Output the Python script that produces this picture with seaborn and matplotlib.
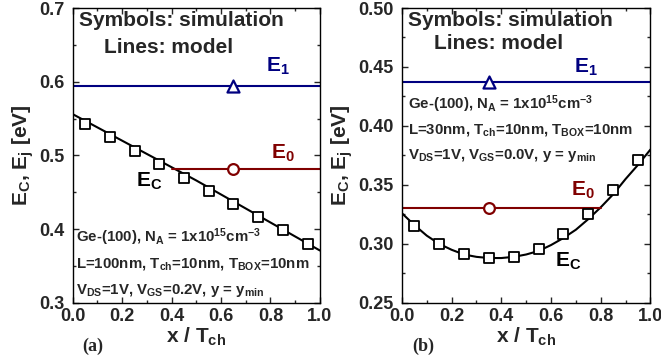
import numpy as np
import pandas as pd
import matplotlib
matplotlib.use("Agg")
import matplotlib.pyplot as plt
from matplotlib.ticker import MultipleLocator, FormatStrFormatter
import seaborn as sns

# ---------------- data ----------------
# panel (a)
a_sim_x = [0.05, 0.15, 0.25, 0.35, 0.45, 0.55, 0.65, 0.75, 0.85, 0.95]
a_sim_ec = [0.542, 0.525, 0.506, 0.489, 0.470, 0.452, 0.434, 0.417, 0.399, 0.380]
a_mod_x = [0.0, 0.1, 0.2, 0.3, 0.4, 0.5, 0.6, 0.7, 0.8, 0.9, 1.0]
a_mod_ec = [0.556, 0.538, 0.520, 0.502, 0.484, 0.466, 0.447, 0.428, 0.409, 0.390, 0.371]
a_e1 = 0.594
a_e0 = 0.481
a_e1_x = [0.0, 1.0]
a_e0_x = [0.4, 1.0]
a_level_sim_x = 0.65

# panel (b)
b_sim_x = [0.05, 0.15, 0.25, 0.35, 0.45, 0.55, 0.65, 0.75, 0.85, 0.95]
b_sim_ec = [0.315, 0.300, 0.291, 0.288, 0.289, 0.296, 0.308, 0.325, 0.346, 0.371]
b_mod_x = [0.0, 0.05, 0.1, 0.15, 0.2, 0.25, 0.3, 0.35, 0.4, 0.45, 0.5,
           0.55, 0.6, 0.65, 0.7, 0.75, 0.8, 0.85, 0.9, 0.95, 1.0]
b_mod_ec = [0.326, 0.316, 0.307, 0.300, 0.295, 0.291, 0.289, 0.288, 0.288, 0.289, 0.291,
            0.294, 0.299, 0.305, 0.312, 0.321, 0.331, 0.342, 0.355, 0.367, 0.380]
b_e1 = 0.437
b_e0 = 0.330
b_e1_x = [0.0, 1.0]
b_e0_x = [0.0, 0.8]
b_level_sim_x = 0.35

# ---------------- style ----------------
sns.set_style("ticks")
plt.rcParams["font.family"] = ["Liberation Sans", "DejaVu Sans"]
plt.rcParams["font.weight"] = "bold"
plt.rcParams["mathtext.fontset"] = "custom"
plt.rcParams["mathtext.rm"] = "Liberation Sans:bold"
plt.rcParams["mathtext.it"] = "Liberation Sans:bold"
plt.rcParams["mathtext.bf"] = "Liberation Sans:bold"
plt.rcParams["mathtext.default"] = "rm"

BLUE = "#000080"
RED = "#800000"
ANN = 10.8
HEAD = 15

fig = plt.figure(figsize=(6.61, 3.64), dpi=100)
axA = fig.add_axes([0.110, 0.168, 0.374, 0.810])
axB = fig.add_axes([0.608, 0.168, 0.376, 0.810])


def draw_panel(ax, sim_x, sim_ec, mod_x, mod_ec, e1, e0, e1_x, e0_x, lvl_x, lines_y):
    sns.lineplot(x=mod_x, y=mod_ec, ax=ax, color="black", lw=1.5)
    sns.lineplot(x=e1_x, y=[e1, e1], ax=ax, color=BLUE, lw=1.5)
    sns.lineplot(x=e0_x, y=[e0, e0], ax=ax, color=RED, lw=1.5)
    sns.scatterplot(x=sim_x, y=sim_ec, ax=ax, marker="s", s=50,
                    facecolor="white", edgecolor="black", linewidth=1.3, zorder=5)
    sns.scatterplot(x=[lvl_x], y=[e1], ax=ax, marker="^", s=75,
                    facecolor="white", edgecolor=BLUE, linewidth=1.6, zorder=5)
    sns.scatterplot(x=[lvl_x], y=[e0], ax=ax, marker="o", s=60,
                    facecolor="white", edgecolor=RED, linewidth=1.6, zorder=5)
    ax.set_xlim(0.0, 1.0)
    ax.xaxis.set_major_locator(MultipleLocator(0.2))
    ax.xaxis.set_minor_locator(MultipleLocator(0.1))
    ax.xaxis.set_major_formatter(FormatStrFormatter("%.1f"))
    ax.tick_params(which="both", direction="in", top=True, right=True,
                   labelsize=13)
    ax.tick_params(axis="y", which="major", pad=6)
    ax.tick_params(axis="x", which="major", pad=4)
    ax.tick_params(which="major", length=4, width=1)
    ax.tick_params(which="minor", length=2.5, width=1)
    for sp in ax.spines.values():
        sp.set_linewidth(1.0)
        sp.set_color("black")
    ax.set_xlabel(r"x / T$_{ch}$", fontsize=15, fontweight="bold", labelpad=0)
    ax.set_ylabel(r"E$_C$, E$_j$ [eV]", fontsize=15, fontweight="bold", labelpad=2)
    ax.text(0.025, 0.956, "Symbols: simulation", transform=ax.transAxes,
            fontsize=HEAD, fontweight="bold", ha="left", va="center")
    ax.text(0.387, lines_y, "Lines: model", transform=ax.transAxes,
            fontsize=HEAD, fontweight="bold", ha="center", va="center")


draw_panel(axA, a_sim_x, a_sim_ec, a_mod_x, a_mod_ec, a_e1, a_e0, a_e1_x, a_e0_x,
           a_level_sim_x, 0.865)
axA.set_ylim(0.3, 0.7)
axA.yaxis.set_major_locator(MultipleLocator(0.1))
axA.yaxis.set_minor_locator(MultipleLocator(0.05))
axA.yaxis.set_major_formatter(FormatStrFormatter("%.1f"))
axA.text(0.83, 0.606, r"E$_1$", color=BLUE, fontsize=15, ha="center", va="bottom")
axA.text(0.85, 0.489, r"E$_0$", color=RED, fontsize=15, ha="center", va="bottom")
axA.text(0.31, 0.465, r"E$_C$", color="black", fontsize=15, ha="center", va="center")
axA.text(0.015, 0.3895, r"Ge-(100), N$_A$ = 1x10$^{15}$cm$^{-3}$", fontsize=ANN, ha="left", va="center")
axA.text(0.015, 0.3527, r"L=100nm, T$_{ch}$=10nm, T$_{BOX}$=10nm", fontsize=ANN, ha="left", va="center")
axA.text(0.015, 0.3173, r"V$_{DS}$=1V, V$_{GS}$=0.2V, y = y$_{min}$", fontsize=ANN, ha="left", va="center")

draw_panel(axB, b_sim_x, b_sim_ec, b_mod_x, b_mod_ec, b_e1, b_e0, b_e1_x, b_e0_x,
           b_level_sim_x, 0.879)
axB.set_ylim(0.25, 0.50)
axB.yaxis.set_major_locator(MultipleLocator(0.05))
axB.yaxis.set_minor_locator(MultipleLocator(0.025))
axB.yaxis.set_major_formatter(FormatStrFormatter("%.2f"))
axB.text(0.74, 0.441, r"E$_1$", color=BLUE, fontsize=15, ha="center", va="bottom")
axB.text(0.73, 0.336, r"E$_0$", color=RED, fontsize=15, ha="center", va="bottom")
axB.text(0.67, 0.285, r"E$_C$", color="black", fontsize=15, ha="center", va="center")
axB.text(0.025, 0.4184, r"Ge-(100), N$_A$ = 1x10$^{15}$cm$^{-3}$", fontsize=ANN, ha="left", va="center")
axB.text(0.025, 0.3964, r"L=30nm, T$_{ch}$=10nm, T$_{BOX}$=10nm", fontsize=ANN, ha="left", va="center")
axB.text(0.025, 0.3753, r"V$_{DS}$=1V, V$_{GS}$=0.0V, y = y$_{min}$", fontsize=ANN, ha="left", va="center")

fig.text(93 / 661, 1 - 346 / 364, "(a)", family=["Liberation Serif", "DejaVu Serif"],
         fontweight="bold", fontsize=13, ha="center", va="center")
fig.text(423 / 661, 1 - 346 / 364, "(b)", family=["Liberation Serif", "DejaVu Serif"],
         fontweight="bold", fontsize=13, ha="center", va="center")

fig.savefig("out.png", dpi=100)
